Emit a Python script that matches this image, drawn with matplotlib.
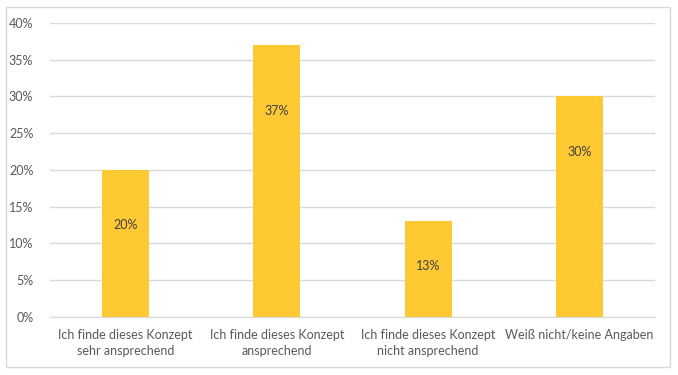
import matplotlib.pyplot as plt
from matplotlib.patches import Rectangle
from matplotlib.ticker import PercentFormatter

plt.rcParams['font.family'] = ['Lato', 'DejaVu Sans']

categories = ["Ich finde dieses Konzept\nsehr ansprechend",
              "Ich finde dieses Konzept\nansprechend",
              "Ich finde dieses Konzept\nnicht ansprechend",
              "Weiß nicht/keine Angaben"]
values = [20, 37, 13, 30]
label_y = [12.5, 28.0, 6.9, 22.4]

text_col = '#595959'
grid_col = '#d9d9d9'

fig = plt.figure(figsize=(6.78, 3.75), dpi=100)
ax = fig.add_axes([0.0737, 0.1547, 0.8923, 0.784])

x = range(len(categories))
ax.bar(x, values, width=0.31, color='#ffc934', zorder=2)
for xi, v, ly in zip(x, values, label_y):
    ax.text(xi, ly, f"{v}%", ha='center', va='center', fontsize=9, color='#404040')

ax.set_xlim(-0.5, 3.5)
ax.set_ylim(0, 40)
ax.set_yticks(range(0, 41, 5))
ax.yaxis.set_major_formatter(PercentFormatter(decimals=0))
ax.set_xticks(list(x))
ax.set_xticklabels(categories, linespacing=1.35)
ax.grid(axis='y', color=grid_col, linewidth=1, zorder=0)
for s in ['top', 'right', 'left']:
    ax.spines[s].set_visible(False)
ax.spines['bottom'].set_color(grid_col)
ax.tick_params(length=0, colors=text_col, labelsize=9)
ax.tick_params(axis='y', pad=12)
ax.tick_params(axis='x', pad=9)

fig.patches.append(Rectangle((0.0088, 0.0213), 0.979, 0.96, transform=fig.transFigure,
                             fill=False, edgecolor='#d9d9d9', linewidth=1))

fig.savefig('out.png', dpi=100)
